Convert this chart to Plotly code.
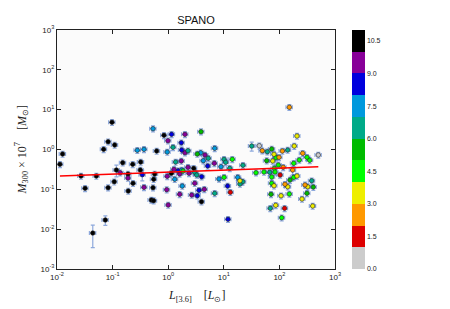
import plotly.graph_objects as go

# ---- data ----
# luminosity L[3.6] in L_sun
L36 = [
    # black (T ~ 10.5)
    0.0126, 0.0113, 0.027, 0.051, 0.032, 0.044, 0.074, 0.069, 0.083, 0.0975,
    0.109, 0.117, 0.107, 0.083, 0.152, 0.23, 0.32, 0.315, 0.189, 0.233,
    0.191, 0.533, 0.497, 0.548, 0.62, 0.84, 0.571, 0.548, 1.14, 2.88, 3.97,
    # purple
    0.99, 2.0, 2.0, 4.59, 1.72, 6.75, 2.27, 1.27, 2.37, 1.61,
    3.0, 4.46, 1.61, 2.65, 1.0, 0.94, 0.96, 0.367, 0.189, 0.137,
    # blue
    1.15, 1.72, 1.75, 5.13, 4.0, 11.7, 3.58, 3.33, 0.342, 11.9, 1.52,
    # light blue
    0.533, 0.278, 0.367, 0.96, 6.86, 3.84, 4.28, 8.9, 1.75, 1.31, 8.2, 1.79, 17.8,
    # teal
    1.22, 2.27, 5.26, 10.1, 10.8, 1.36, 3.0, 3.26, 6.86, 31.8,
    12.8, 22.1, 67.0, 21.9, 19.5, 68.6, 141.0, 381.0, 60.6,
    # dark green
    3.89, 3.33, 72.8, 59.1, 70.6, 155.0, 407.0, 313.0,
    # green
    10.1, 14.2, 86.9, 95.5, 80.9, 37.9, 52.8, 83.4, 72.8, 72.8,
    110.0, 228.0, 313.0, 351.0, 181.0, 181.0, 151.0, 1.85,
    # yellow
    80.0, 75.7, 19.5, 80.0, 107.0, 85.8, 207.0, 185.0, 207.0, 141.0, 323.0, 255.0, 397.0,
    # orange
    49.2, 113.0, 98.4, 117.0, 126.0, 151.0, 262.0, 173.0, 289.0,
    # red
    103.0, 13.1, 124.0,
    # gray
    43.5, 501.0,
]

# M300 x 1e7 in M_sun
M300 = [
    0.77, 0.425, 0.216, 0.216, 0.106, 0.008, 0.017, 1.01, 1.57, 4.82,
    1.30, 0.305, 0.155, 0.11, 0.466, 0.425, 0.485, 0.305, 0.243, 0.142,
    0.091, 0.11, 0.054, 0.052, 0.916, 2.27, 0.243, 0.179, 0.252, 0.337, 0.0489,
    1.66, 2.40, 0.83, 0.728, 0.514, 0.45, 0.357, 0.318, 0.252, 0.243,
    0.142, 0.10, 0.075, 0.072, 0.0404, 0.098, 0.212, 0.112, 0.192, 0.261,
    2.40, 1.48, 0.97, 0.385, 0.207, 0.121, 0.0945, 0.069, 0.233, 0.0177, 0.293,
    3.33, 0.955, 1.01, 0.865, 1.07, 0.83, 0.524, 0.37, 0.305, 0.179, 0.182, 0.121, 0.20,
    1.135, 0.933, 0.601, 0.567, 0.477, 0.485, 0.267, 0.229, 0.0794, 1.22,
    0.337, 0.401, 0.267, 0.155, 0.136, 0.0334, 0.97, 0.164, 0.88,
    2.80, 0.77, 1.03, 0.524, 0.075, 0.171, 0.114, 0.0794,
    0.20, 0.567, 0.622, 0.408, 0.337, 0.261, 0.272, 0.272, 0.204, 0.142,
    0.0194, 0.545, 0.637, 0.535, 0.45, 0.20, 0.0764, 0.288,
    0.757, 0.514, 0.164, 0.123, 0.069, 0.0397, 2.18, 1.22, 0.216, 0.116, 0.116, 0.0571, 0.0381,
    0.933, 0.916, 0.637, 0.357, 0.134, 11.5, 0.802, 0.305, 0.129,
    0.229, 0.0844, 0.0334,
    1.24, 0.728,
]

# morphological type (colour variable)
TTYPE = (
    [10.5] * 31 + [9.5] * 20 + [8.5] * 11 + [7.5] * 13 + [6.5] * 19 +
    [5.5] * 8 + [4.5] * 18 + [3.5] * 13 + [2.5] * 9 + [1.5] * 3 + [0.5] * 2
)

# relative uncertainties (default, plus the visibly larger ones by index)
REL_ERR_X = 0.13
REL_ERR_Y = 0.17
BIG_ERR_Y = {5: 0.57, 6: 0.27, 11: 0.33, 59: 0.30, 84: 0.25, 140: 0.25, 152: 0.22, 153: 0.28}

# power-law fit line
FIT_X = [0.0113, 501.0]
FIT_Y = [0.216, 0.37]

# axis ticks
X_EXP = [-2, -1, 0, 1, 2, 3]
Y_EXP = [-3, -2, -1, 0, 1, 2, 3]

# colour bar
CB_TICKS = [0.0, 1.5, 3.0, 4.5, 6.0, 7.5, 9.0, 10.5]
BIN_COLORS = ["#cccccc", "#dd0000", "#ff9900", "#eeee00", "#00ff00", "#00bb00",
              "#00aa88", "#0099dd", "#0000dd", "#880099", "#000000"]

# ---- build ----
n = len(BIN_COLORS)
colorscale = []
for i, c in enumerate(BIN_COLORS):
    colorscale.append([i / n, c])
    colorscale.append([(i + 1) / n, c])

err_y = [M300[i] * BIG_ERR_Y.get(i, REL_ERR_Y) for i in range(len(M300))]
err_x = [v * REL_ERR_X for v in L36]
ERR_COLOR = "rgba(70,115,200,0.6)"

fig = go.Figure()
fig.add_trace(go.Scatter(
    x=L36, y=M300, mode="markers",
    marker=dict(size=4.5, color=TTYPE, colorscale=colorscale, cmin=0, cmax=11,
                line=dict(width=0.6, color="#222"),
                colorbar=dict(tickvals=CB_TICKS, ticktext=[f"{t:.1f}" for t in CB_TICKS],
                              x=1.061, xanchor="left", xref="paper", xpad=0, ypad=0,
                              y=0.5, yanchor="middle", yref="paper", lenmode="fraction", len=1.0,
                              thickness=13, outlinewidth=0, ticks="",
                              tickfont=dict(size=7, family="Liberation Sans", color="#222"))),
    error_y=dict(type="data", array=err_y, color=ERR_COLOR, thickness=1.2, width=2),
    error_x=dict(type="data", array=err_x, color=ERR_COLOR, thickness=1.2, width=2),
    showlegend=False,
))
fig.add_trace(go.Scatter(x=FIT_X, y=FIT_Y, mode="lines",
                         line=dict(color="#ff0000", width=1.5), showlegend=False))

axis_common = dict(type="log", ticks="inside", ticklen=4, tickwidth=1,
                   tickcolor="#222", mirror="ticks", showline=True, linecolor="#222",
                   linewidth=1, showgrid=False, zeroline=False,
                   tickfont=dict(size=8, family="Liberation Sans", color="#222"))

# the page body adds an 8px offset, so the figure is 8px smaller than the window
W, H = 442, 301
fig.update_layout(
    width=W, height=H,
    margin=dict(l=49, r=115, t=22, b=40, autoexpand=False),
    paper_bgcolor="white", plot_bgcolor="#fbfbfb",
    title=dict(text="SPANO", x=188 / W, y=1 - 12 / H, xanchor="center", yanchor="middle",
               font=dict(size=11, family="Liberation Sans", color="#111")),
    xaxis=dict(range=[-2, 3], tickvals=[10.0 ** e for e in X_EXP],
               ticktext=[f"10<sup>{e}</sup>" for e in X_EXP], **axis_common),
    yaxis=dict(range=[-3, 3], tickvals=[10.0 ** e for e in Y_EXP],
               ticktext=[f"10<sup>{e}</sup>" for e in Y_EXP], **axis_common),
    annotations=[
        dict(text="<i>L</i><sub>[3.6]</sub>    [<i>L</i><sub>⊙</sub>]", xref="paper", yref="paper",
             x=0.5, y=-0.113, xanchor="center", yanchor="middle", showarrow=False,
             font=dict(size=12, family="Liberation Serif", color="#222")),
        dict(text="<i>M</i><sub>300</sub> × 10<sup>7</sup>    [<i>M</i><sub>⊙</sub>]", xref="paper", yref="paper",
             x=-0.126, y=0.5, xanchor="center", yanchor="middle", textangle=-90, showarrow=False,
             font=dict(size=12, family="Liberation Serif", color="#222")),
    ],
)

fig.write_html("out.html")
